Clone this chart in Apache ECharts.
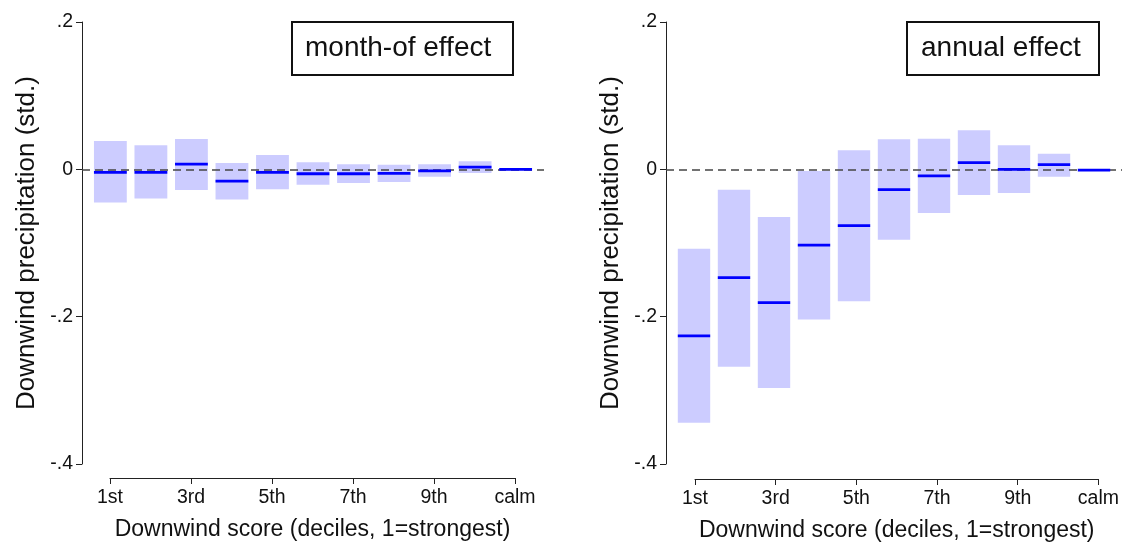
<!DOCTYPE html>
<html>
<head>
<meta charset="utf-8">
<script src="https://cdn.jsdelivr.net/npm/echarts@6/dist/echarts.min.js"></script>
<style>
  html, body { margin: 0; padding: 0; background: #fff; }
  #chart { width: 1122px; height: 544px; }
</style>
</head>
<body>
<div id="chart"></div>
<script>
// deciles of downwind score, last one is the calm reference group
var categories = ['1st', '2nd', '3rd', '4th', '5th', '6th', '7th', '8th', '9th', '10th', 'calm'];

// month-of effect: point estimate and 95% interval
var monthPoint = [-0.004, -0.004, 0.007, -0.016, -0.004, -0.006, -0.006, -0.0055, -0.002, 0.003, 0.0];
var monthLow   = [-0.045, -0.0395, -0.028, -0.041, -0.027, -0.021, -0.0186, -0.0173, -0.010, -0.005, null];
var monthHigh  = [0.0385, 0.0326, 0.0412, 0.0086, 0.0195, 0.0095, 0.0068, 0.0063, 0.0068, 0.011, null];

// annual effect
var annualPoint = [-0.226, -0.147, -0.181, -0.103, -0.0765, -0.0276, -0.009, 0.009, 0.0, 0.0063, -0.001];
var annualLow   = [-0.344, -0.268, -0.297, -0.204, -0.179, -0.0955, -0.0593, -0.0348, -0.032, -0.010, null];
var annualHigh  = [-0.1077, -0.0276, -0.0647, -0.0023, 0.0258, 0.0407, 0.0416, 0.0529, 0.0326, 0.0213, null];

var yTicks = [-0.4, -0.2, 0, 0.2];

var FONT = "'Liberation Sans', Arial, sans-serif";
var HALF = 0.405;   // half width of a box in category units
var X_MIN = 0.3, X_MAX = 11.7;

var myChart = echarts.init(document.getElementById('chart'));

function fmtY(v) {
    var s = String(Math.round(v * 10) / 10);
    return s.replace('0.', '.');
}

function boxData(lo, hi) {
    var out = [];
    for (var i = 0; i < categories.length; i++) {
        if (lo[i] == null) continue;
        out.push([i + 1, lo[i], hi[i]]);
    }
    return out;
}

function pointData(pt) {
    return pt.map(function (v, i) { return [i + 1, v]; });
}

function renderBox(params, api) {
    var x = api.value(0);
    var a = api.coord([x - HALF, api.value(2)]);
    var b = api.coord([x + HALF, api.value(1)]);
    return {
        type: 'rect',
        shape: { x: a[0], y: a[1], width: b[0] - a[0], height: b[1] - a[1] },
        style: { fill: '#ccccff' }
    };
}

function renderPoint(params, api) {
    var x = api.value(0);
    var a = api.coord([x - HALF, api.value(1)]);
    var b = api.coord([x + HALF, api.value(1)]);
    return {
        type: 'line',
        shape: { x1: a[0], y1: a[1], x2: b[0], y2: b[1] },
        style: { stroke: '#0000ff', lineWidth: 2.8 }
    };
}

// plot grids (0,2) and separate bottom axis grids (1,3), Stata style
var grids = [
    { left: 82, top: 22, width: 462, height: 442 },
    { left: 110, top: 440, width: 405, height: 38 },
    { left: 666, top: 22, width: 462, height: 442 },
    { left: 695, top: 441, width: 405, height: 38 }
];

function plotX(gi) {
    return { gridIndex: gi, type: 'value', min: X_MIN, max: X_MAX, show: false };
}

function bottomX(gi) {
    return {
        gridIndex: gi,
        type: 'category',
        data: categories,
        boundaryGap: false,
        axisLine: { show: true, lineStyle: { color: '#222', width: 1 } },
        axisTick: { show: true, length: 6, interval: 1, lineStyle: { color: '#222' } },
        axisLabel: { interval: 1, fontSize: 19.5, margin: 10, color: '#111', fontFamily: FONT },
        name: 'Downwind score (deciles, 1=strongest)',
        nameLocation: 'middle',
        nameGap: 40,
        nameTextStyle: { fontSize: 23, color: '#111', fontFamily: FONT }
    };
}

function plotY(gi) {
    return {
        gridIndex: gi,
        type: 'value',
        min: yTicks[0],
        max: yTicks[yTicks.length - 1],
        interval: 0.2,
        position: 'left',
        axisLine: { show: true, onZero: false, lineStyle: { color: '#222', width: 1 } },
        axisTick: { show: true, length: 6, lineStyle: { color: '#222' } },
        splitLine: { show: false },
        axisLabel: { fontSize: 19.5, margin: 9, color: '#111', fontFamily: FONT, formatter: fmtY },
        name: 'Downwind precipitation (std.)',
        nameLocation: 'middle',
        nameGap: 42,
        nameTextStyle: { fontSize: 26, color: '#111', fontFamily: FONT }
    };
}

function hiddenY(gi) {
    return { gridIndex: gi, type: 'value', show: false };
}

function panelSeries(axisIdx, pt, lo, hi) {
    return [{
        type: 'custom',
        xAxisIndex: axisIdx, yAxisIndex: axisIdx,
        renderItem: renderBox,
        data: boxData(lo, hi),
        z: 1,
        silent: true,
        markLine: {
            silent: true,
            symbol: 'none',
            label: { show: false },
            lineStyle: { color: '#444', width: 1.6, type: [8, 5] },
            data: [{ yAxis: 0 }]
        }
    }, {
        type: 'custom',
        xAxisIndex: axisIdx, yAxisIndex: axisIdx,
        renderItem: renderPoint,
        data: pointData(pt),
        z: 10,
        silent: true
    }];
}

option = {
    animation: false,
    backgroundColor: '#fff',
    title: [{
        text: 'month-of effect',
        left: 292, top: 22,
        borderColor: '#111', borderWidth: 2,
        padding: [10, 22, 11, 13],
        textStyle: { fontSize: 28, fontWeight: 'normal', color: '#111', fontFamily: FONT, lineHeight: 32 }
    }, {
        text: 'annual effect',
        left: 907, top: 22,
        borderColor: '#111', borderWidth: 2,
        padding: [10, 18, 11, 14],
        textStyle: { fontSize: 28, fontWeight: 'normal', color: '#111', fontFamily: FONT, lineHeight: 32 }
    }],
    grid: grids,
    xAxis: [plotX(0), bottomX(1), plotX(2), bottomX(3)],
    yAxis: [plotY(0), hiddenY(1), plotY(2), hiddenY(3)],
    series: [].concat(
        panelSeries(0, monthPoint, monthLow, monthHigh),
        panelSeries(2, annualPoint, annualLow, annualHigh)
    )
};

myChart.setOption(option);
</script>
</body>
</html>
